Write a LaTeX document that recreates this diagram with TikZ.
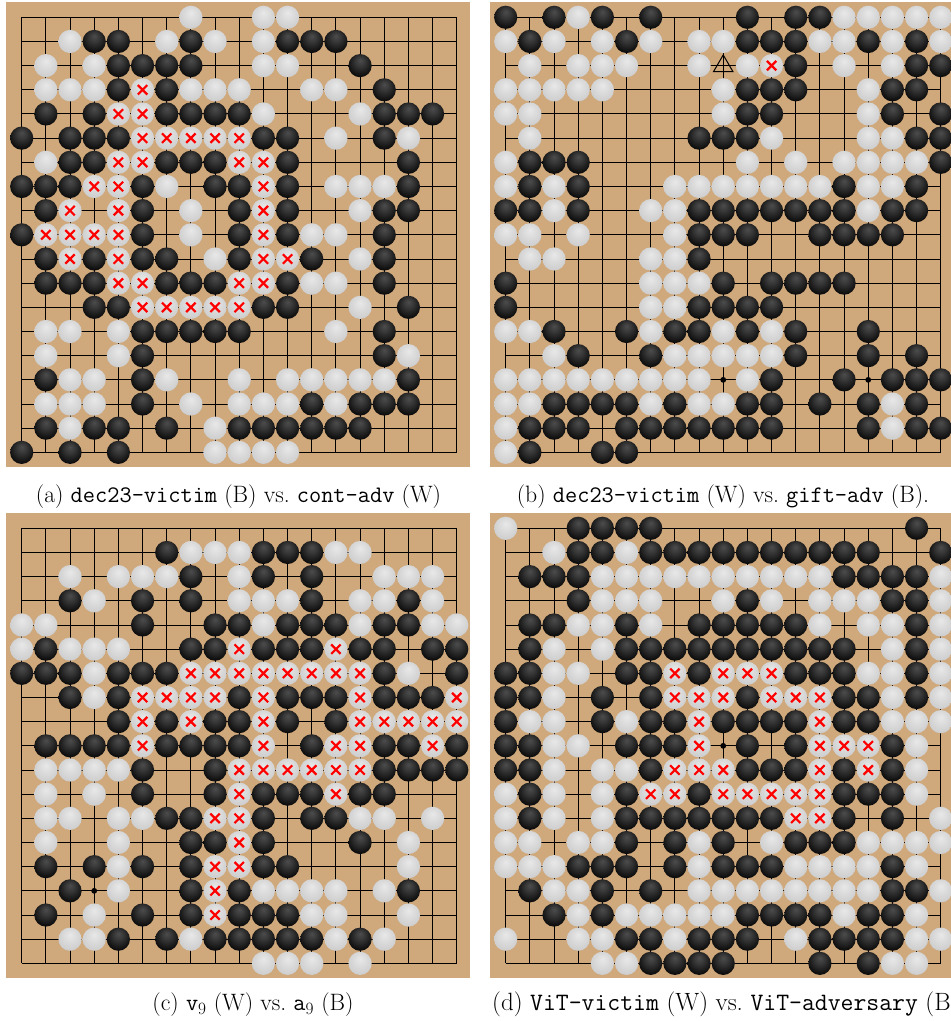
\documentclass[tikz,border=0pt]{standalone}
\usepackage{tikz}
\definecolor{boardcol}{RGB}{207,168,123}
\pgfdeclareradialshading{bstone}{\pgfpoint{0bp}{12bp}}{color(0bp)=(black!70); color(10bp)=(black!78); color(28bp)=(black!95); color(38bp)=(black); color(50bp)=(black)}
\pgfdeclareradialshading{wstone}{\pgfpoint{0bp}{10bp}}{color(0bp)=(black!9); color(16bp)=(black!15); color(36bp)=(black!22); color(50bp)=(black!30)}
\tikzset{
  gridline/.style={line width=0.95pt, black},
  xmark/.style={red, line width=2.2pt},
  starpt/.style={fill=black},
  boardbg/.style={fill=boardcol},
  caption/.style={font=\fontsize{23.7}{28}\selectfont, inner sep=0pt},
  bigcaption/.style={font=\fontsize{25}{30}\selectfont, inner sep=0pt},
  trimark/.style={line width=1pt, black}
}
\newcommand\GoS{24.17}
\newcommand\GoR{11.6}
\newcommand\GoOrigin[2]{\def\ox{#1}\def\oy{#2}}
\newcommand\GoBoard{%
  \fill[boardbg] ({\ox-15.7},{\oy+15.5}) rectangle ({\ox+18*\GoS+13.3},{\oy-18*\GoS-14.5});
  \foreach \i in {0,...,18}{
    \draw[gridline] ({\ox+\i*\GoS},{\oy}) -- ({\ox+\i*\GoS},{\oy-18*\GoS});
    \draw[gridline] ({\ox},{\oy-\i*\GoS}) -- ({\ox+18*\GoS},{\oy-\i*\GoS});
  }
  \foreach \i in {3,9,15}{\foreach \j in {3,9,15}{\fill[starpt] ({\ox+\i*\GoS},{\oy-\j*\GoS}) circle (2.9);}}%
}
\newcommand\GoB[2]{\foreach \q in {#2}{\shade[shading=bstone] ({\ox+\q*\GoS},{\oy-#1*\GoS}) circle (\GoR);}}
\newcommand\GoW[2]{\foreach \q in {#2}{\shade[shading=wstone] ({\ox+\q*\GoS},{\oy-#1*\GoS}) circle (\GoR);}}
\newcommand\GoX[2]{\foreach \q in {#2}{\shade[shading=wstone] ({\ox+\q*\GoS},{\oy-#1*\GoS}) circle (\GoR);
  \draw[xmark] ({\ox+\q*\GoS-4.7},{\oy-#1*\GoS-4.7}) -- ++(9.4,9.4) ({\ox+\q*\GoS-4.7},{\oy-#1*\GoS+4.7}) -- ++(9.4,-9.4);}}
\begin{document}
\begin{tikzpicture}[x=1pt,y=1pt]
\useasboundingbox (0,0) rectangle (951,1021);
\clip (0,0) rectangle (951,1021);
\fill[white] (0,0) rectangle (951,1021);

% ---------------- board (a)
\GoOrigin{21.7}{1003.7}
\GoBoard
\GoW{0}{7,10,11}
\GoW{1}{2,6,8,10} \GoB{1}{3,4,7,11,12,13}
\GoW{2}{1,3,10,11} \GoB{2}{4,5,6,7,14}
\GoW{3}{1,2,3,7,8,9,12,13} \GoX{3}{5} \GoB{3}{4,6,15}
\GoB{4}{1,3,6,7,8,9,15,16,17} \GoX{4}{4,5} \GoW{4}{10,14}
\GoB{5}{0,2,3,4,10,11,15} \GoX{5}{5,6,7,8,9} \GoW{5}{13,16}
\GoW{6}{1} \GoB{6}{2,3,6,7,8,11,16} \GoX{6}{4,5,9,10}
\GoB{7}{0,1,2,5,8,9,11,16} \GoX{7}{3,4,10} \GoW{7}{6,13,14,15}
\GoB{8}{1,5,9,11,15,16} \GoX{8}{2,4,10} \GoW{8}{7,14}
\GoB{9}{0,5,9,11,15} \GoX{9}{1,2,3,4,10} \GoW{9}{7,12,13}
\GoB{10}{1,3,5,6,9,12,15} \GoX{10}{2,4,10,11} \GoW{10}{8,14}
\GoB{11}{1,2,3,6,7,8,11,15} \GoX{11}{4,5,9,10} \GoW{11}{12,13}
\GoB{12}{3,4,10,11,16} \GoX{12}{5,6,7,8,9} \GoW{12}{14}
\GoW{13}{1,2,4,13} \GoB{13}{5,6,7,8,9,15}
\GoW{14}{1,4,16} \GoB{14}{5,15}
\GoB{15}{1,5,16} \GoW{15}{2,3,6,9,11,12,13,14,15}
\GoW{16}{1,2,3,7,9,10,11,13} \GoB{16}{5,12,14,15,16}
\GoB{17}{1,3,4,6,9,10,11,12,13,14} \GoW{17}{2,8}
\GoB{18}{0,2,4} \GoW{18}{8,9,10,11}

% ---------------- board (b)
\GoOrigin{505.7}{1003.7}
\GoBoard
\GoB{0}{0,2,4,6,10,12,13} \GoW{0}{3,14,15,16,17,18}
\GoW{1}{0,2,4,6,8,9,13,14,16,18} \GoB{1}{1,5,10,11,12,15,17}
\GoW{2}{1,3,4,5,8,10,14,16} \GoX{2}{11} \GoB{2}{12,17,18}
\GoW{3}{0,1,2,3,4,9,15} \GoB{3}{10,11,12,16,17}
\GoW{4}{0,1,9,15} \GoB{4}{10,11,16,18}
\GoW{5}{1,11,15,16} \GoB{5}{8,9,10,17,18}
\GoW{6}{0,10,12,14,15,16,17} \GoB{6}{1,2,3,18}
\GoW{7}{0,2,7,8,9,10,11,12,13,15,16} \GoB{7}{1,3,14,17}
\GoB{8}{0,1,3,8,9,10,11,12,13,14,16,17} \GoW{8}{2,6,7,15}
\GoW{9}{0,1,3,7} \GoB{9}{8,9,10,13,14,15,16}
\GoW{10}{1,2,6,7} \GoB{10}{8}
\GoB{11}{0,9,11,12,13,14} \GoW{11}{6,7,8}
\GoB{12}{0,8,9,10,11} \GoW{12}{6,7}
\GoW{13}{0,1,6,9,11} \GoB{13}{2,5,7,8,10,12,15}
\GoW{14}{2,7,8,9,10,11} \GoB{14}{3,6,12,15,17}
\GoW{15}{0,1,2,3,4,5,6,7,8,10} \GoB{15}{11,14,16,17,18}
\GoW{16}{0,1,6,8,9,16} \GoB{16}{2,3,4,5,7,10,11,13,15,17}
\GoW{17}{0,16} \GoB{17}{1,2,3,5,6,7,8,9,10,11,15,17,18}
\GoW{18}{0} \GoB{18}{1,4,5}
\draw[trimark] ({\ox+9*\GoS},{\oy-2*\GoS+10.7}) -- ({\ox+9*\GoS-9.7},{\oy-2*\GoS-6}) -- ({\ox+9*\GoS+9.7},{\oy-2*\GoS-6}) -- cycle;

% ---------------- board (c)
\GoOrigin{21.7}{492.7}
\GoBoard
\GoB{1}{6,10,11,12} \GoW{1}{7,8,9,13,14}
\GoW{2}{2,4,5,6,9,15,16,17} \GoB{2}{7,10,12}
\GoB{3}{2,5,7,12,16} \GoW{3}{3,9,10,11,14,15,17}
\GoW{4}{0,1,10,14,17,18} \GoB{4}{5,8,9,11,12,13,15,16}
\GoW{5}{0,2,3,4} \GoB{5}{1,7,8,10,11,12,14,15,17,18} \GoX{5}{9,13}
\GoB{6}{0,1,2,4,5,6,15,18} \GoW{6}{3,16} \GoX{6}{7,8,9,10,11,12,13,14}
\GoB{7}{2,4,9,11,12,13,15,16,17} \GoW{7}{3} \GoX{7}{5,6,7,8,10,14,18}
\GoB{8}{4,6,8,9,11,13} \GoX{8}{5,7,10,14,15,16,17,18}
\GoB{9}{1,2,3,4,6,7,8,9,12,15,16,18} \GoX{9}{5,10,13,14,17}
\GoW{10}{1,2,3,4} \GoB{10}{5,8,15,16,17,18} \GoX{10}{9,10,11,12,13,14}
\GoW{11}{1,3} \GoB{11}{5,8,10,11,12,14,15} \GoX{11}{9,13}
\GoW{12}{1,2,4,5,14,15,17} \GoB{12}{6,7,10,12,13} \GoX{12}{8,9}
\GoW{13}{1,4,16} \GoB{13}{7,8,10,14} \GoX{13}{9}
\GoB{14}{1,3,5,7,10,11} \GoW{14}{4,16} \GoX{14}{8,9}
\GoB{15}{2,7,9,16} \GoW{15}{4,10,11,12,13,15} \GoX{15}{8}
\GoB{16}{1,5,7,9,10,11} \GoW{16}{3,12,13,16} \GoX{16}{8}
\GoW{17}{2,3,7,13,15} \GoB{17}{4,6,8,9,10,11,12,14}
\GoW{18}{10,11,12,14}

% ---------------- board (d)
\GoOrigin{505.7}{492.7}
\GoBoard
\GoW{0}{0} \GoB{0}{3,4,5,6,17}
\GoW{1}{2,5} \GoB{1}{3,4,6,7,8,9,10,11,12,13,14,15,18}
\GoB{2}{1,2,3,14,15,16,17} \GoW{2}{4,5,6,7,8,9,10,11,12,13,18}
\GoB{3}{3,10,16,17} \GoW{3}{4,5,6,9,11,13,14,15,18}
\GoB{4}{1,2,5,8,9,10,11,12,17} \GoW{4}{3,4,6,13,15,16,18}
\GoB{5}{1,5,6,7,8,9,10,11,12,13,14,17} \GoW{5}{2,4,16,18}
\GoB{6}{0,1,5,6,8,12,13,14,17} \GoW{6}{2,3,15,16,18} \GoX{6}{7,9,10,11}
\GoB{7}{0,1,4,6,10,14,15,17} \GoW{7}{2,16,18} \GoX{7}{7,8,9,11,12,13}
\GoB{8}{0,4,6,7,9,10,11,12,14,15} \GoW{8}{1,2,5,16,17,18} \GoX{8}{8,13}
\GoB{9}{0,1,5,6,7,10,12,16} \GoW{9}{2,3,17} \GoX{9}{8,13,14,15}
\GoB{10}{0,1,6,10,11,12,14,16} \GoW{10}{2,4,5,17} \GoX{10}{7,8,9,13,15}
\GoW{11}{0,2,4,17} \GoB{11}{1,5,8,14,15,16} \GoX{11}{6,7,9,10,11,12,13}
\GoW{12}{0,2,4,18} \GoB{12}{1,5,6,7,8,9,10,11,14,16} \GoX{12}{12,13}
\GoW{13}{0,1,3,4,8,11,15,16,17,18} \GoB{13}{5,7,9,12,13,14}
\GoW{14}{0,1,2,8,12,13,14,15,17} \GoB{14}{3,4,5,7,9,10,11,16}
\GoB{15}{1,4,6,16,17} \GoW{15}{2,3,8,9,10,11,12,13,14,15,18}
\GoB{16}{2,4,10,11,12,13,15,16} \GoW{16}{3,5,6,7,8,9,14,17}
\GoW{17}{0,3,4,7,12,17,18} \GoB{17}{5,6,8,9,10,13,14,15,16}
\GoW{18}{4,5,16,17} \GoB{18}{6,7,8,9,13,15}

% ---------------- captions
\node[caption, anchor=base] (capa) at (238.5,518.5) {(a) \texttt{dec23-victim} (B) vs.\ \texttt{cont-adv} (W)};
\node[caption, anchor=base] (capb) at (723,518.5) {(b) \texttt{dec23-victim} (W) vs.\ \texttt{gift-adv} (B).};
\node[caption, anchor=base] (capc) at (253,10) {(c) \texttt{v}$_9$ (W) vs.\ \texttt{a}$_9$ (B)};
\node[bigcaption, anchor=base west] (capd) at (492,10) {(d) \texttt{ViT-victim} (W) vs.\ \texttt{ViT-adversary} (B)};
\end{tikzpicture}
\end{document}
